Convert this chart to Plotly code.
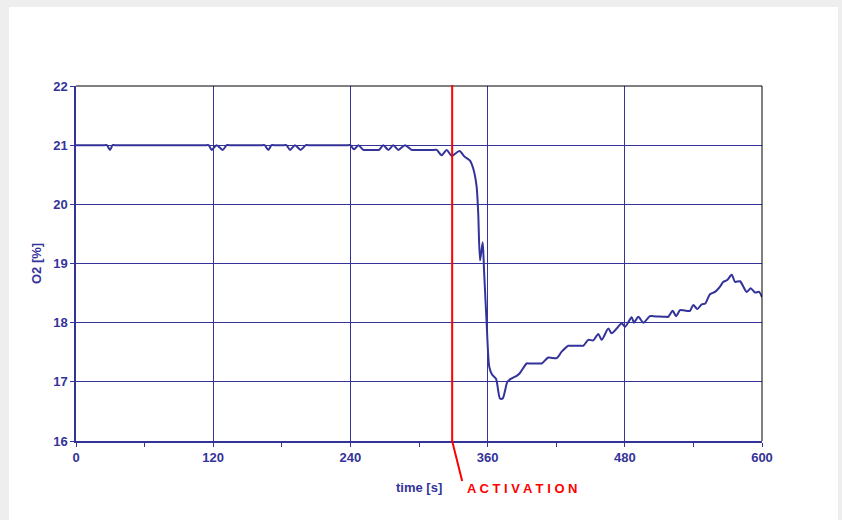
import plotly.graph_objects as go

# ---- data -------------------------------------------------------------
time_s = [0, 25, 27, 29.7, 32, 34, 114, 116, 118.7, 123, 128.3, 131.8, 134,
          163, 165, 168.2, 171, 173, 182, 184, 187.2, 191.5, 196.5, 201, 203,
          238, 240, 243.2, 247, 251.3, 255, 263, 265,
          268.8, 273.2, 277.5, 281.9, 287.8, 293.6, 296, 313, 315.5, 319.8, 324.2,
          328.6, 335.3, 340.2, 344.6, 347.5, 350.4, 351.8, 353.4, 355.7,
          356.9, 359.2, 361.5, 364, 367.4, 370.8, 373.2, 377.3, 380.2, 385.4,
          388.3, 394.2, 397, 404.5, 407.3, 413.1, 420.4, 424.8, 430.6, 433, 441,
          443.7, 448.1, 452.4, 456.8, 459.8, 465.6, 468.5, 472.9, 477.3, 480.2,
          486.0, 488.0, 491.8, 496.2, 502.0, 505, 515, 518.0, 521.9, 524.8,
          528.3, 531, 534, 537.0, 539.9, 543.4, 547.3, 550.2, 554.5, 558.9,
          563.3, 566.2, 569.6, 573.5, 576.4, 580.8, 586.6, 590.1, 593.9, 597.5,
          600]
o2_pct = [21.0, 21.0, 21.0, 20.92, 21.0, 21.0, 21.0, 21.0, 20.92, 21.0, 20.92, 21.0, 21.0,
          21.0, 21.0, 20.92, 21.0, 21.0, 21.0, 21.0, 20.92, 21.0, 20.92, 21.0, 21.0,
          21.0, 21.0, 20.93, 21.0, 20.92, 20.92, 20.92, 20.92,
          21.0, 20.92, 21.0, 20.92, 21.0, 20.92, 20.92, 20.92, 20.92, 20.83, 20.92,
          20.82, 20.9, 20.8, 20.74, 20.6, 20.3, 19.85, 19.05, 19.36,
          18.88, 17.98, 17.25, 17.12, 17.05, 16.72, 16.72, 17.0, 17.05, 17.1,
          17.15, 17.31, 17.31, 17.31, 17.31, 17.41, 17.4, 17.51, 17.61, 17.61, 17.61,
          17.61, 17.71, 17.7, 17.81, 17.71, 17.9, 17.82, 17.9, 17.99, 17.93,
          18.09, 18.0, 18.1, 18.0, 18.11, 18.11, 18.1, 18.1, 18.2, 18.11,
          18.21, 18.21, 18.2, 18.2, 18.3, 18.23, 18.31, 18.32, 18.48, 18.52,
          18.61, 18.69, 18.72, 18.81, 18.69, 18.7, 18.52, 18.58, 18.51, 18.52,
          18.43]

x_ticks = [0, 120, 240, 360, 480, 600]
y_ticks = [16, 17, 18, 19, 20, 21, 22]
x_range = [0, 600]
y_range = [16, 22]
activation_t = 329
activation_label = "A C T I V A T I O N"

NAVY = "#333399"
FONT = "Liberation Sans, Arial, sans-serif"

fig = go.Figure()
fig.add_trace(go.Scatter(
    x=time_s, y=o2_pct, mode="lines",
    line=dict(color=NAVY, width=2, shape="spline", smoothing=0.7),
    hoverinfo="skip", showlegend=False,
))

# activation marker position in paper coordinates
ax_frac = (activation_t - x_range[0]) / (x_range[1] - x_range[0])

W, H = 842, 520
L, R, T, B = 76, 80, 86, 79
pw, ph = W - L - R, H - T - B

def px_x(p):  # figure pixel -> paper x
    return (p - L) / pw

def px_y(p):  # figure pixel -> paper y
    return (H - B - p) / ph

shapes = [
    # white page panel
    dict(type="rect", xref="paper", yref="paper", layer="below",
         x0=px_x(9), x1=px_x(838), y0=px_y(521), y1=px_y(7),
         fillcolor="white", line=dict(width=0)),
    # top and right frame
    dict(type="line", xref="paper", yref="paper", x0=0, x1=1, y0=1, y1=1,
         line=dict(color="black", width=1)),
    dict(type="line", xref="paper", yref="paper", x0=1, x1=1, y0=0, y1=1,
         line=dict(color="black", width=1)),
    # activation line
    dict(type="path", xref="paper", yref="paper",
         path=f"M {ax_frac},1.003 L {ax_frac},0 L {ax_frac + px_x(462) - px_x(452)},{px_y(481)}",
         line=dict(color="#ff0000", width=2)),
]

annotations = [
    dict(text="time [s]", xref="paper", yref="paper", x=0.5, y=px_y(487),
         xanchor="center", yanchor="middle", showarrow=False,
         font=dict(family=FONT, size=13, color=NAVY, weight="bold")),
    dict(text="O2 [%]", xref="paper", yref="paper", x=px_x(36), y=px_y(264),
         xanchor="center", yanchor="middle", showarrow=False, textangle=-90,
         font=dict(family=FONT, size=13, color=NAVY, weight="bold")),
    dict(text=activation_label, xref="paper", yref="paper",
         x=ax_frac + px_x(465) - px_x(452), y=px_y(488),
         xanchor="left", yanchor="middle", showarrow=False,
         font=dict(family=FONT, size=13, color="#ff0000", weight="bold")),
]

fig.update_layout(
    width=W, height=H,
    margin=dict(l=L, r=R, t=T, b=B, pad=0),
    paper_bgcolor="#eeeeee", plot_bgcolor="white",
    shapes=shapes, annotations=annotations,
    showlegend=False,
    xaxis=dict(range=x_range, tickvals=x_ticks, ticks="outside", ticklen=4,
               tickcolor=NAVY, tickwidth=1, showgrid=True, gridcolor=NAVY,
               gridwidth=1, showline=True, linecolor=NAVY, linewidth=1.5,
               zeroline=False,
               tickfont=dict(family=FONT, size=13, color=NAVY, weight="bold"),
               minor=dict(dtick=60, tick0=0, ticks="outside", ticklen=4,
                          tickcolor=NAVY, showgrid=False)),
    yaxis=dict(range=y_range, tickvals=y_ticks, ticks="outside", ticklen=4,
               tickcolor=NAVY, tickwidth=1, showgrid=True, gridcolor=NAVY,
               gridwidth=1, showline=True, linecolor=NAVY, linewidth=1.5,
               zeroline=False,
               tickfont=dict(family=FONT, size=13, color=NAVY, weight="bold")),
)

fig.write_html(
    "out.html",
    config={"displayModeBar": False},
    post_script="document.body.style.margin='0';document.body.style.background='#eeeeee';",
)
